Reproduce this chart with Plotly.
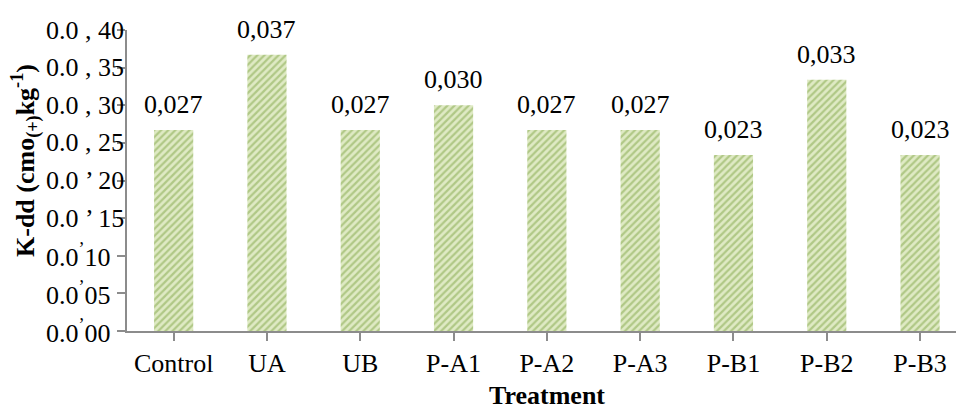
import plotly.graph_objects as go

categories = ["Control", "UA", "UB", "P-A1", "P-A2", "P-A3", "P-B1", "P-B2", "P-B3"]
values = [0.0267, 0.0367, 0.0267, 0.0300, 0.0267, 0.0267, 0.0234, 0.0334, 0.0234]
value_labels = ["0,027", "0,037", "0,027", "0,030", "0,027", "0,027", "0,023", "0,033", "0,023"]
ytick_vals = [0.040, 0.035, 0.030, 0.025, 0.020, 0.015, 0.010, 0.005, 0.000]
ytick_text = ["0.0 , 40", "0.0 , 35", "0.0 , 30", "0.0 , 25", "0.0 \u2019 20",
              "0.0 \u2019 15", "0.0<sup>\u2019</sup>10", "0.0<sup>\u2019</sup>05",
              "0.0<sup>\u2019</sup>00"]
y_title = "<b>K-dd (cmo<sub>(+)</sub>kg<sup>-1</sup>)</b>"
x_title = "<b>Treatment</b>"

FONT = "Liberation Serif, Times New Roman, serif"
W, H = 956, 410
L, R, T, B = 127, 0, 30, 79
plot_w = W - L - R
plot_h = H - T - B
cat_px = 93.3
x_max = -0.5 + plot_w / cat_px

fig = go.Figure()
fig.add_trace(go.Bar(
    x=list(range(len(categories))),
    y=values,
    width=0.42,
    marker=dict(
        color="#dfeac4",
        line=dict(width=0),
        pattern=dict(shape="/", fgcolor="#b0c886", bgcolor="#dfeac4",
                     size=5, solidity=0.45, fillmode="replace"),
    ),
    hoverinfo="skip",
))

annotations = []
for i, (v, lab) in enumerate(zip(values, value_labels)):
    annotations.append(dict(x=i, y=v, xref="x", yref="y", text=lab, showarrow=False,
                            yanchor="bottom", yshift=9,
                            font=dict(family=FONT, size=26, color="black")))

# left-aligned y tick labels
for v, t in zip(ytick_vals, ytick_text):
    annotations.append(dict(x=(44 - L) / plot_w, y=v, xref="paper", yref="y", text=t,
                            showarrow=False, xanchor="left", yanchor="middle",
                            font=dict(family=FONT, size=26, color="black")))

# y-axis title
annotations.append(dict(x=(25 - L) / plot_w, y=(H - B - 161) / plot_h, xref="paper", yref="paper",
                        text=y_title, showarrow=False, textangle=-90,
                        xanchor="center", yanchor="middle",
                        font=dict(family=FONT, size=26, color="black")))

# x-axis title
annotations.append(dict(x=0.5 * (cat_px * 9) / plot_w, y=-64 / plot_h,
                        xref="paper", yref="paper", text=x_title, showarrow=False,
                        xanchor="center", yanchor="middle",
                        font=dict(family=FONT, size=26, color="black")))

fig.update_layout(
    width=W, height=H,
    margin=dict(l=L, r=R, t=T, b=B, pad=0),
    paper_bgcolor="white", plot_bgcolor="white",
    showlegend=False,
    annotations=annotations,
    xaxis=dict(
        range=[-0.5, x_max],
        tickmode="array",
        tickvals=list(range(len(categories))),
        ticktext=categories,
        tickson="boundaries",
        ticks="outside", ticklen=8, tickcolor="#8c8c8c", tickwidth=1.5,
        showline=True, linecolor="#8c8c8c", linewidth=1.5,
        showgrid=False, zeroline=False,
        tickfont=dict(family=FONT, size=26, color="black"),
    ),
    yaxis=dict(
        range=[0, 0.040],
        tickmode="array",
        tickvals=ytick_vals,
        showticklabels=False,
        ticks="outside", ticklen=8, tickcolor="#8c8c8c", tickwidth=1.5,
        showline=True, linecolor="#8c8c8c", linewidth=1.5,
        showgrid=False, zeroline=False,
    ),
)

fig.write_html("out.html")
